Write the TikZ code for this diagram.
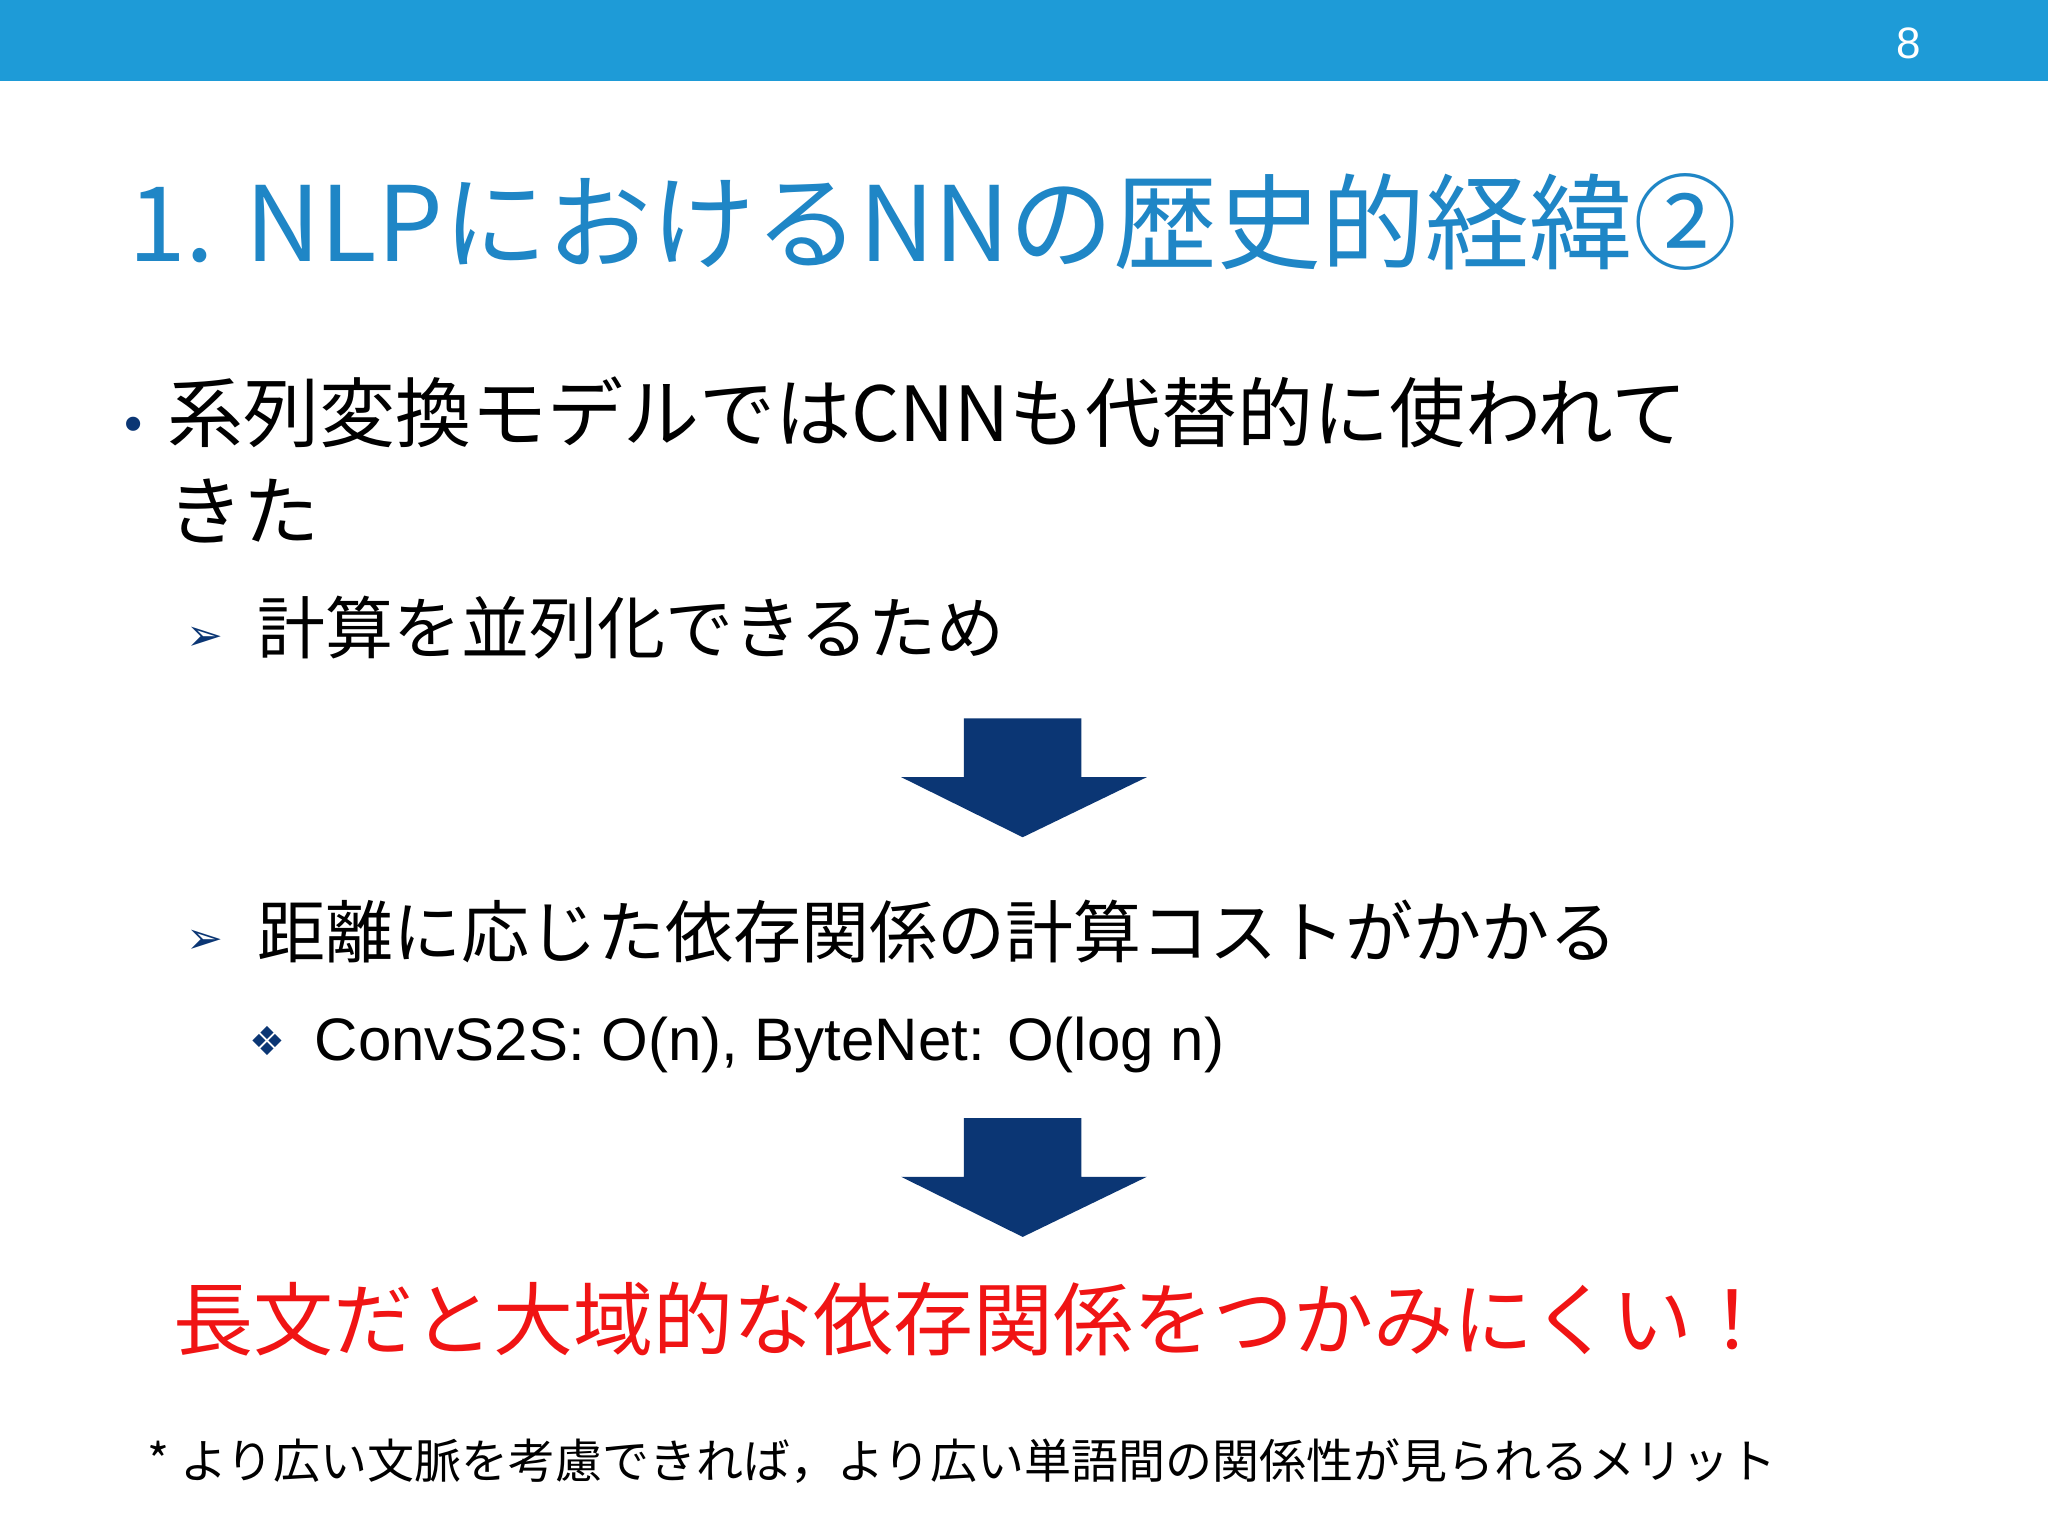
\documentclass[tikz,border=0pt]{standalone}
\usepackage{fontspec}
\setmainfont{Noto Sans CJK JP}
\newfontfamily\jp{Noto Sans CJK JP}
\newfontfamily\lat{Liberation Sans}
\newfontfamily\sym{DejaVu Sans}
\definecolor{barblue}{HTML}{1E9BD7}
\definecolor{titleblue}{HTML}{1F86C6}
\definecolor{navy}{HTML}{0B3674}
\definecolor{redtxt}{HTML}{F01414}
\begin{document}
\begin{tikzpicture}[x=0.653pt,y=-0.653pt,
  txt/.style={anchor=base west,inner sep=0pt,outer sep=0pt},
  blockarrow/.style={fill=navy,draw=none}]
\useasboundingbox (0,0) rectangle (1568,1176);
\fill[white] (0,0) rectangle (1568,1176);
\fill[barblue] (0,0) rectangle (1568,62);
\node[txt,text=white,font=\lat\fontsize{22}{26}\selectfont] (pg) at (1452,45) {8};
\node[txt,text=titleblue,font=\jp\fontsize{52}{60}\selectfont] (title) at (98,200) {1. NLPにおけるNNの歴史的経緯②};
\node[txt,text=navy,font=\lat\fontsize{26}{30}\selectfont] (b1) at (95,338) {•};
\node[txt,font=\jp\fontsize{38}{44}\selectfont] (l1) at (128,338) {系列変換モデルではCNNも代替的に使われて};
\node[txt,font=\jp\fontsize{38}{44}\selectfont] (l2) at (128,413) {きた};
\node[txt,text=navy,font=\sym\fontsize{22}{26}\selectfont] (a1) at (143,498) {➢};
\node[txt,font=\jp\fontsize{34}{40}\selectfont] (s1) at (197,500) {計算を並列化できるため};
\fill[blockarrow] (738,550) -- (828,550) -- (828,595) -- (878,595) -- (783,641) -- (690,595) -- (738,595) -- cycle;
\node[txt,text=navy,font=\sym\fontsize{22}{26}\selectfont] (a2) at (143,730) {➢};
\node[txt,font=\jp\fontsize{34}{40}\selectfont] (s2) at (197,733) {距離に応じた依存関係の計算コストがかかる};
\node[txt,text=navy,font=\sym\fontsize{20}{24}\selectfont] (d1) at (191,808) {❖};
\node[txt,font=\lat\fontsize{30}{36}\selectfont] (cv) at (241,812) {ConvS2S: O(n), ByteNet: O(log n)};
\fill[blockarrow] (738,856) -- (828,856) -- (828,901) -- (878,901) -- (783,947) -- (690,901) -- (738,901) -- cycle;
\node[txt,text=redtxt,font=\jp\fontsize{40}{48}\selectfont] (red) at (133,1033) {長文だと大域的な依存関係をつかみにくい！};
\node[txt,font=\jp\fontsize{23.5}{28}\selectfont] (fn) at (113,1132) {* より広い文脈を考慮できれば，より広い単語間の関係性が見られるメリット};
\end{tikzpicture}
\end{document}
